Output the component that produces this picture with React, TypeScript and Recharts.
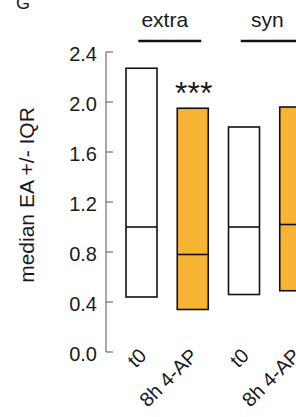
import { BarChart, Bar, XAxis, YAxis, LabelList } from "recharts";

const categories = ["t0", "8h 4-AP", "t0", "8h 4-AP"];
const groups = ["extra", "extra", "syn", "syn"];
const lowQ = [0.44, 0.34, 0.46, 0.49];
const medians = [1.0, 0.78, 1.0, 1.02];
const highQ = [2.27, 1.95, 1.8, 1.96];
const stars = ["", "***", "", ""];
const yTicks = [0, 0.4, 0.8, 1.2, 1.6, 2.0, 2.4];

const ORANGE = "#F7B334";
const fills = ["#ffffff", ORANGE, "#ffffff", ORANGE];
const FONT = "'Liberation Sans', Arial, sans-serif";
const INK = "#1a1a1a";

const data = categories.map((c, i) => ({
  id: i,
  label: c,
  group: groups[i],
  low: lowQ[i],
  med: medians[i],
  high: highQ[i],
  sig: stars[i],
  fill: fills[i],
}));

// box from Q1 to Q3 with a median line inside
function IqrBox(props: any) {
  const { x, y, width, height, payload } = props;
  const medY = y + (height * (payload.high - payload.med)) / (payload.high - payload.low);
  return (
    <g>
      <rect x={x} y={y} width={width} height={height} fill={payload.fill} stroke="#111" strokeWidth={1.6} />
      <line x1={x} x2={x + width} y1={medY} y2={medY} stroke="#111" strokeWidth={1.6} />
    </g>
  );
}

function YTick({ x, y, payload }: any) {
  return (
    <g>
      <line x1={x} x2={x + 7} y1={y} y2={y} stroke="#555" strokeWidth={1} />
      <text x={x - 9} y={y + 9} textAnchor="end" fontSize={20} fontFamily={FONT} fill={INK}>
        {Number(payload.value).toFixed(1)}
      </text>
    </g>
  );
}

function XTick({ x, y, payload }: any) {
  const px = x + 6;
  const py = y + 5;
  return (
    <text
      x={px}
      y={py}
      transform={`rotate(-45, ${px}, ${py})`}
      textAnchor="end"
      fontSize={20}
      fontFamily={FONT}
      fill={INK}
    >
      {categories[payload.value]}
    </text>
  );
}

function GroupTick({ x, y, payload }: any) {
  return (
    <g>
      <text x={x - 2.5} y={y - 25} textAnchor="middle" fontSize={21} fontFamily={FONT} fill={INK}>
        {payload.value}
      </text>
      <line x1={x - 29} x2={x + 34} y1={y - 11} y2={y - 11} stroke="#111" strokeWidth={2.5} />
    </g>
  );
}

function Stars(props: any) {
  const { x, y, width, value } = props;
  if (!value) return null;
  return (
    <text x={x + width / 2 + 1} y={y - 4} textAnchor="middle" fontSize={32} fontFamily={FONT} fill={INK}>
      {value}
    </text>
  );
}

function YLabel({ viewBox }: any) {
  const cx = viewBox.x + 26;
  const cy = viewBox.y + viewBox.height / 2 - 7;
  return (
    <text
      x={cx}
      y={cy}
      transform={`rotate(-90, ${cx}, ${cy})`}
      textAnchor="middle"
      dominantBaseline="central"
      fontSize={21}
      fontFamily={FONT}
      fill={INK}
    >
      median EA +/- IQR
    </text>
  );
}

export default function App() {
  return (
    <div
      style={{
        position: "absolute",
        left: 0,
        top: 0,
        width: 296,
        height: 417,
        overflow: "hidden",
        background: "#fff",
      }}
    >
      <div
        style={{
          position: "absolute",
          left: 16,
          top: -6,
          fontSize: 18,
          lineHeight: "18px",
          fontFamily: FONT,
          color: INK,
        }}
      >
        G
      </div>
      <BarChart
        width={321}
        height={417}
        data={data}
        margin={{ top: 0, right: 0, bottom: 0, left: 0 }}
        barSize={31}
      >
        <XAxis
          xAxisId="top"
          orientation="top"
          dataKey="group"
          allowDuplicatedCategory={false}
          height={52}
          padding={{ left: 10, right: 0 }}
          axisLine={false}
          tickLine={false}
          tickSize={0}
          tickMargin={0}
          tick={<GroupTick />}
        />
        <XAxis
          xAxisId="bottom"
          dataKey="id"
          height={65}
          padding={{ left: 10, right: 0 }}
          axisLine={false}
          tickLine={false}
          tickSize={0}
          tickMargin={0}
          interval={0}
          tick={<XTick />}
        />
        <YAxis
          width={106}
          domain={[0, 2.4]}
          ticks={yTicks}
          axisLine={{ stroke: "#555", strokeWidth: 1 }}
          tickLine={false}
          tickSize={0}
          tickMargin={0}
          tick={<YTick />}
          label={<YLabel />}
        />
        <Bar
          xAxisId="bottom"
          dataKey={(d: any) => [d.low, d.high]}
          shape={<IqrBox />}
          isAnimationActive={false}
        >
          <LabelList dataKey="sig" content={<Stars />} />
        </Bar>
      </BarChart>
    </div>
  );
}
